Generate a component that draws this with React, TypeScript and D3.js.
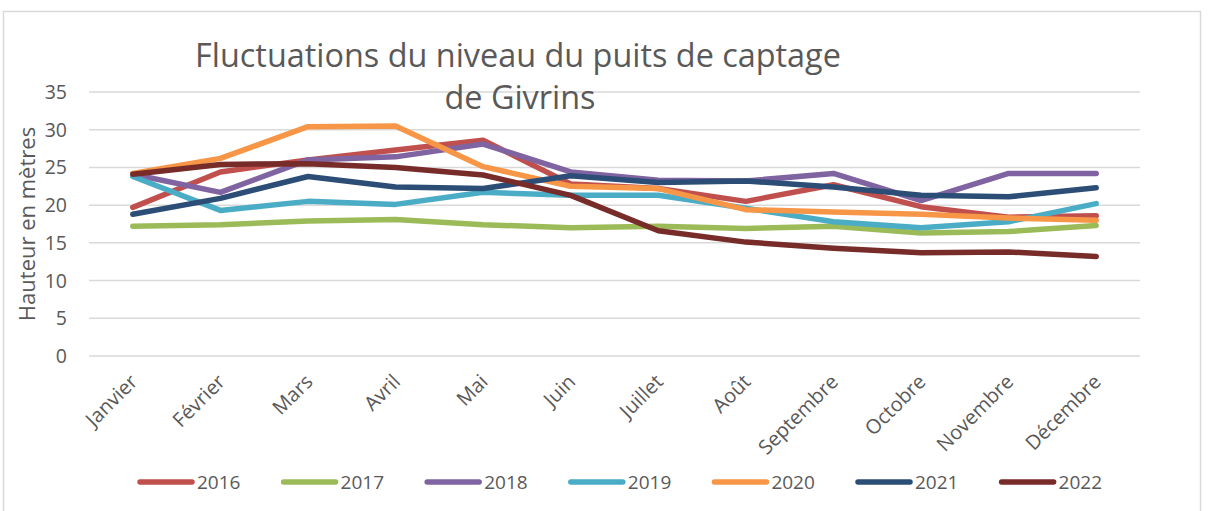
import React from "react";
import * as d3 from "d3";

const months = ["Janvier", "Février", "Mars", "Avril", "Mai", "Juin", "Juillet", "Août", "Septembre", "Octobre", "Novembre", "Décembre"];
const years = ["2016", "2017", "2018", "2019", "2020", "2021", "2022"];
const colors = ["#C0504D", "#9BBB59", "#8064A2", "#4BACC6", "#F79646", "#2C4D75", "#772C2A"];
const yTicks = [0, 5, 10, 15, 20, 25, 30, 35];

const s2016 = [19.7, 24.4, 26.0, 27.3, 28.6, 22.8, 22.2, 20.5, 22.7, 19.8, 18.4, 18.6];
const s2017 = [17.2, 17.4, 17.9, 18.1, 17.4, 17.0, 17.2, 16.9, 17.2, 16.3, 16.5, 17.3];
const s2018 = [24.1, 21.7, 26.0, 26.4, 28.1, 24.4, 23.3, 23.2, 24.2, 20.6, 24.2, 24.2];
const s2019 = [23.8, 19.3, 20.5, 20.1, 21.7, 21.3, 21.3, 19.6, 17.8, 17.0, 17.8, 20.2];
const s2020 = [24.2, 26.2, 30.4, 30.5, 25.1, 22.5, 22.2, 19.4, 19.1, 18.8, 18.3, 18.0];
const s2021 = [18.8, 20.9, 23.8, 22.4, 22.2, 23.9, 23.0, 23.2, 22.4, 21.3, 21.1, 22.3];
const s2022 = [24.1, 25.4, 25.5, 25.0, 24.0, 21.3, 16.6, 15.1, 14.3, 13.7, 13.8, 13.2];
const series = [s2016, s2017, s2018, s2019, s2020, s2021, s2022];

const W = 1208, H = 511;
const plotLeft = 89, plotRight = 1140, plotTop = 92, plotBottom = 356;
const textColor = "#595959";
const font = "'Open Sans', 'Liberation Sans', sans-serif";

export default function App() {
  const x = d3.scaleBand<string>().domain(months).range([plotLeft, plotRight]);
  const y = d3.scaleLinear().domain([0, 35]).range([plotBottom, plotTop]);
  const cx = (m: string) => (x(m) as number) + x.bandwidth() / 2;
  const line = d3.line<number>().x((_, i) => cx(months[i])).y((d) => y(d));

  return (
    <svg width={W} height={H} style={{ position: "absolute", left: 0, top: 0, background: "#fff" }} fontFamily={font}>
      <rect x={3.5} y={11.5} width={1197} height={520} fill="#fff" stroke="#D9D9D9" strokeWidth={1.5} />
      {yTicks.map((t) => (
        <g key={t}>
          <line x1={plotLeft} x2={plotRight} y1={y(t)} y2={y(t)} stroke="#D9D9D9" strokeWidth={1.5} />
          <text x={67} y={y(t)} dy="0.36em" textAnchor="end" fontSize={19.5} fill={textColor}>{t}</text>
        </g>
      ))}
      <text transform={`translate(35,224) rotate(-90)`} textAnchor="middle" fontSize={22} fill={textColor}>Hauteur en mètres</text>
      <text x={518} y={67} textAnchor="middle" fontSize={32.4} fill={textColor}>Fluctuations du niveau du puits de captage</text>
      <text x={520} y={109} textAnchor="middle" fontSize={32.4} fill={textColor}>de Givrins</text>
      {series.map((s, i) => (
        <path key={years[i]} d={line(s) || ""} fill="none" stroke={colors[i]} strokeWidth={5.5} strokeLinecap="round" strokeLinejoin="round" />
      ))}
      {months.map((m) => (
        <text key={m} transform={`translate(${cx(m) + 6},${383}) rotate(-45)`} textAnchor="end" fontSize={20} fill={textColor}>{m}</text>
      ))}
      {years.map((yr, i) => {
        const lx = 140 + i * 143.6;
        return (
          <g key={yr}>
            <line x1={lx} x2={lx + 52} y1={482} y2={482} stroke={colors[i]} strokeWidth={5.5} strokeLinecap="round" />
            <text x={lx + 57} y={482} dy="0.36em" fontSize={19} fill={textColor}>{yr}</text>
          </g>
        );
      })}
    </svg>
  );
}
